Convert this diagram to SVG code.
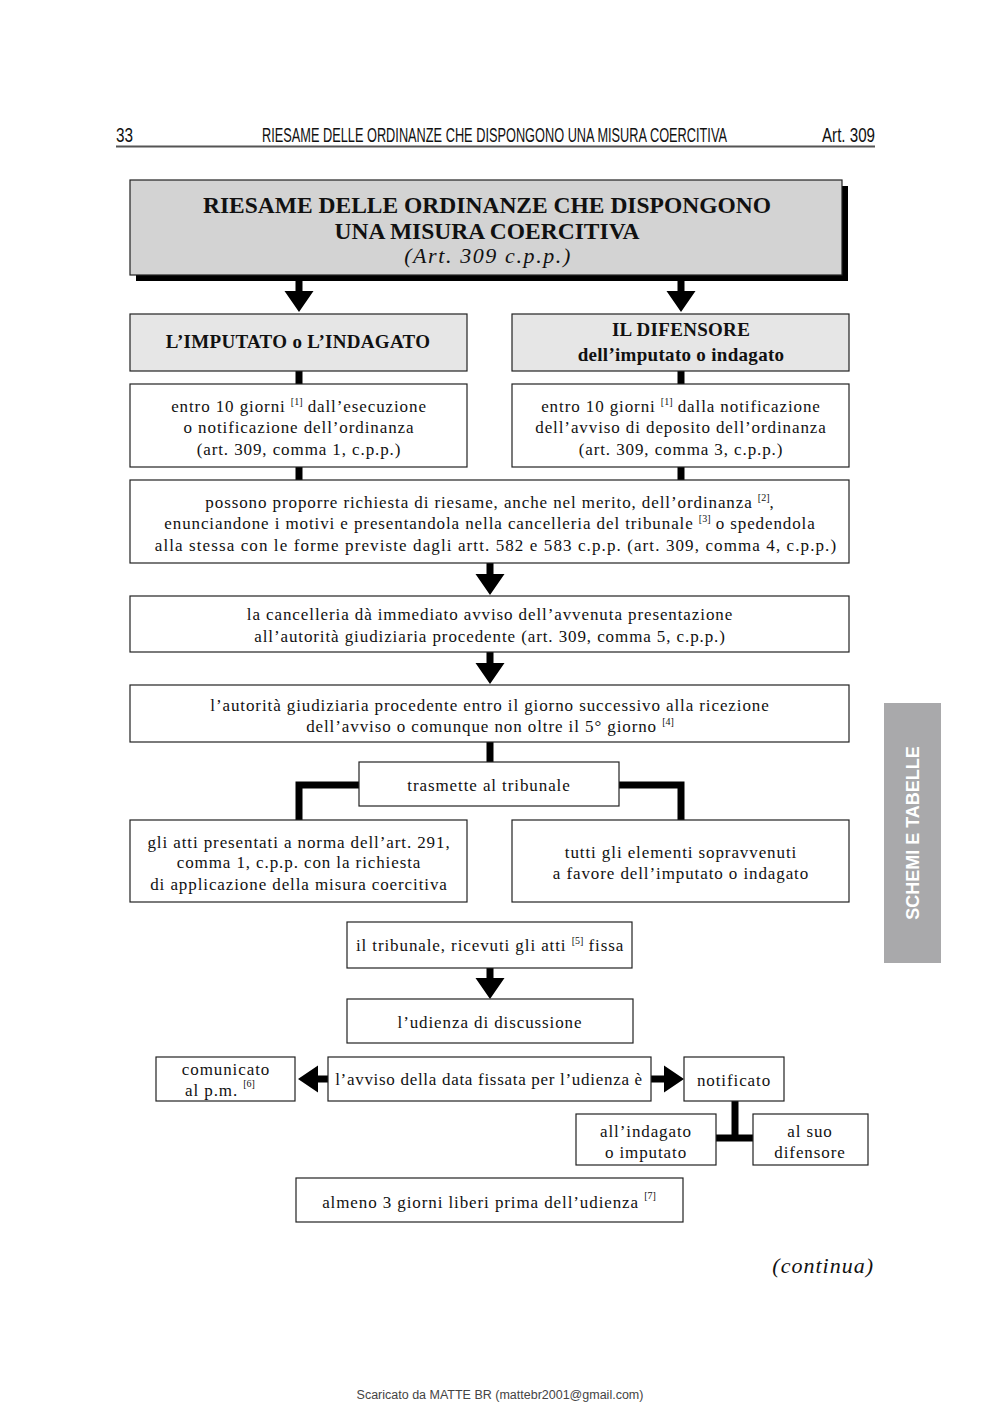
<svg xmlns="http://www.w3.org/2000/svg" width="1000" height="1415" viewBox="0 0 1000 1415">
<style>
.t{font-family:"Liberation Serif","Times New Roman",serif;font-size:17px;letter-spacing:0.9px;fill:#111;text-anchor:middle}
.b{font-weight:bold;font-size:19px;letter-spacing:0.3px}
.sup{font-size:10px;letter-spacing:0}
.box{fill:#fff;stroke:#222;stroke-width:1.2}
.gbox{fill:#e6e6e6;stroke:#222;stroke-width:1.2}
.ln{stroke:#000;stroke-width:7;fill:none}
.ar{fill:#000}
.hd{font-family:"Liberation Sans",Arial,sans-serif;font-size:21px;fill:#111}
</style>
<rect width="1000" height="1415" fill="#fff"/>
<g id="header">
<text class="hd" transform="translate(116,142) scale(0.66,1)" x="0" y="0" textLength="25.8" lengthAdjust="spacingAndGlyphs">33</text>
<text class="hd" transform="translate(262,142) scale(0.66,1)" x="0" y="0" textLength="704.5" lengthAdjust="spacingAndGlyphs">RIESAME DELLE ORDINANZE CHE DISPONGONO UNA MISURA COERCITIVA</text>
<text class="hd" transform="translate(822,142) scale(0.66,1)" x="0" y="0" textLength="80.3" lengthAdjust="spacingAndGlyphs">Art. 309</text>
<line x1="116" y1="146.5" x2="875" y2="146.5" stroke="#555" stroke-width="2"/>
</g>
<g id="connectors">
<path class="ar" d="M295.5,281 h7 v10 h11 l-14.5,21 l-14.5,-21 h11 z"/>
<path class="ar" d="M677.5,281 h7 v10 h11 l-14.5,21 l-14.5,-21 h11 z"/>
<line class="ln" x1="299" y1="371" x2="299" y2="384"/>
<line class="ln" x1="681" y1="371" x2="681" y2="384"/>
<line class="ln" x1="299" y1="467" x2="299" y2="480"/>
<line class="ln" x1="681" y1="467" x2="681" y2="480"/>
<path class="ar" d="M486.5,563 h7 v11 h11 l-14.5,21 l-14.5,-21 h11 z"/>
<path class="ar" d="M486.5,652 h7 v11 h11 l-14.5,21 l-14.5,-21 h11 z"/>
<line class="ln" x1="490" y1="742" x2="490" y2="762"/>
<polyline class="ln" points="359,785 299,785 299,820"/>
<polyline class="ln" points="619,785 681,785 681,820"/>
<path class="ar" d="M486.5,968 h7 v10 h11 l-14.5,21 l-14.5,-21 h11 z"/>
<path class="ar" d="M328,1075.5 v7 h-10 v10 l-20,-13.5 l20,-13.5 v10 z"/>
<path class="ar" d="M651,1075.5 v7 h13 v10 l20,-13.5 l-20,-13.5 v10 z"/>
<line class="ln" x1="735" y1="1101" x2="735" y2="1138"/>
<line class="ln" x1="716" y1="1138" x2="753" y2="1138"/>
</g>
<g id="title">
<rect x="136" y="186" width="712" height="95" fill="#000"/>
<rect x="130" y="180" width="712" height="95" fill="#d3d3d3" stroke="#222" stroke-width="1.2"/>
<text class="t b" x="487" y="213" style="font-size:23.5px;letter-spacing:0">RIESAME DELLE ORDINANZE CHE DISPONGONO</text>
<text class="t b" x="487" y="239" style="font-size:23.5px;letter-spacing:0">UNA MISURA COERCITIVA</text>
<text class="t" x="488" y="263" style="font-size:22px;font-style:italic;letter-spacing:1.6px">(Art. 309 c.p.p.)</text>
</g>
<g id="imputato">
<rect class="gbox" x="130" y="314" width="337" height="57"/>
<text class="t b" x="298" y="348">L’IMPUTATO o L’INDAGATO</text>
</g>
<g id="difensore">
<rect class="gbox" x="512" y="314" width="337" height="57"/>
<text class="t b" x="681" y="336">IL DIFENSORE</text>
<text class="t b" x="681" y="361">dell’imputato o indagato</text>
</g>
<g id="termine1">
<rect class="box" x="130" y="384" width="337" height="83"/>
<text class="t" x="299" y="412">entro 10 giorni <tspan class="sup" dy="-7">[1]</tspan><tspan dy="7"> dall’esecuzione</tspan></text>
<text class="t" x="299" y="433">o notificazione dell’ordinanza</text>
<text class="t" x="299" y="455">(art. 309, comma 1, c.p.p.)</text>
</g>
<g id="termine2">
<rect class="box" x="512" y="384" width="337" height="83"/>
<text class="t" x="681" y="412">entro 10 giorni <tspan class="sup" dy="-7">[1]</tspan><tspan dy="7"> dalla notificazione</tspan></text>
<text class="t" x="681" y="433">dell’avviso di deposito dell’ordinanza</text>
<text class="t" x="681" y="455">(art. 309, comma 3, c.p.p.)</text>
</g>
<g id="richiesta">
<rect class="box" x="130" y="480" width="719" height="83"/>
<text class="t" x="490" y="508">possono proporre richiesta di riesame, anche nel merito, dell’ordinanza <tspan class="sup" dy="-7">[2]</tspan><tspan dy="7">,</tspan></text>
<text class="t" x="490" y="529">enunciandone i motivi e presentandola nella cancelleria del tribunale <tspan class="sup" dy="-7">[3]</tspan><tspan dy="7"> o spedendola</tspan></text>
<text class="t" x="496" y="551" style="letter-spacing:1.1px">alla stessa con le forme previste dagli artt. 582 e 583 c.p.p. (art. 309, comma 4, c.p.p.)</text>
</g>
<g id="cancelleria">
<rect class="box" x="130" y="596" width="719" height="56"/>
<text class="t" x="490" y="620">la cancelleria dà immediato avviso dell’avvenuta presentazione</text>
<text class="t" x="490" y="642">all’autorità giudiziaria procedente (art. 309, comma 5, c.p.p.)</text>
</g>
<g id="autorita">
<rect class="box" x="130" y="685" width="719" height="57"/>
<text class="t" x="490" y="711">l’autorità giudiziaria procedente entro il giorno successivo alla ricezione</text>
<text class="t" x="490" y="732">dell’avviso o comunque non oltre il 5° giorno <tspan class="sup" dy="-7">[4]</tspan></text>
</g>
<g id="trasmette">
<rect class="box" x="359" y="762" width="260" height="44"/>
<text class="t" x="489" y="791">trasmette al tribunale</text>
</g>
<g id="atti">
<rect class="box" x="130" y="820" width="337" height="82"/>
<text class="t" x="299" y="848">gli atti presentati a norma dell’art. 291,</text>
<text class="t" x="299" y="868">comma 1, c.p.p. con la richiesta</text>
<text class="t" x="299" y="890">di applicazione della misura coercitiva</text>
</g>
<g id="elementi">
<rect class="box" x="512" y="820" width="337" height="82"/>
<text class="t" x="681" y="858">tutti gli elementi sopravvenuti</text>
<text class="t" x="681" y="879">a favore dell’imputato o indagato</text>
</g>
<g id="tribunale">
<rect class="box" x="347" y="922" width="285" height="46"/>
<text class="t" x="490" y="951">il tribunale, ricevuti gli atti <tspan class="sup" dy="-7">[5]</tspan><tspan dy="7"> fissa</tspan></text>
</g>
<g id="udienza">
<rect class="box" x="347" y="999" width="286" height="44"/>
<text class="t" x="490" y="1028">l’udienza di discussione</text>
</g>
<g id="comunicato">
<rect class="box" x="156" y="1057" width="139" height="44"/>
<text class="t" x="226" y="1075">comunicato</text>
<text class="t" x="220" y="1096">al p.m. <tspan class="sup" dy="-9">[6]</tspan></text>
</g>
<g id="avviso">
<rect class="box" x="328" y="1057" width="323" height="44"/>
<text class="t" x="489" y="1085" style="letter-spacing:0.7px">l’avviso della data fissata per l’udienza è</text>
</g>
<g id="notificato">
<rect class="box" x="684" y="1057" width="100" height="44"/>
<text class="t" x="734" y="1086">notificato</text>
</g>
<g id="indagato">
<rect class="box" x="576" y="1114" width="140" height="51"/>
<text class="t" x="646" y="1137">all’indagato</text>
<text class="t" x="646" y="1158">o imputato</text>
</g>
<g id="suodifensore">
<rect class="box" x="753" y="1114" width="115" height="51"/>
<text class="t" x="810" y="1137">al suo</text>
<text class="t" x="810" y="1158">difensore</text>
</g>
<g id="almeno">
<rect class="box" x="296" y="1178" width="387" height="44"/>
<text class="t" x="489" y="1208">almeno 3 giorni liberi prima dell’udienza <tspan class="sup" dy="-9">[7]</tspan></text>
</g>
<text class="t" x="874" y="1273" style="text-anchor:end;font-style:italic;font-size:22px;letter-spacing:1px">(continua)</text>
<g id="tab">
<rect x="884" y="703" width="57" height="260" fill="#a9a9ab"/>
<text transform="translate(919,833) rotate(-90)" style="font-family:'Liberation Sans',Arial,sans-serif;font-weight:bold;font-size:18px;fill:#fff;text-anchor:middle">SCHEMI E TABELLE</text>
</g>
<text x="500" y="1399" style="font-family:'Liberation Sans',Arial,sans-serif;font-size:12.5px;fill:#444;text-anchor:middle">Scaricato da MATTE BR (mattebr2001@gmail.com)</text>
</svg>
